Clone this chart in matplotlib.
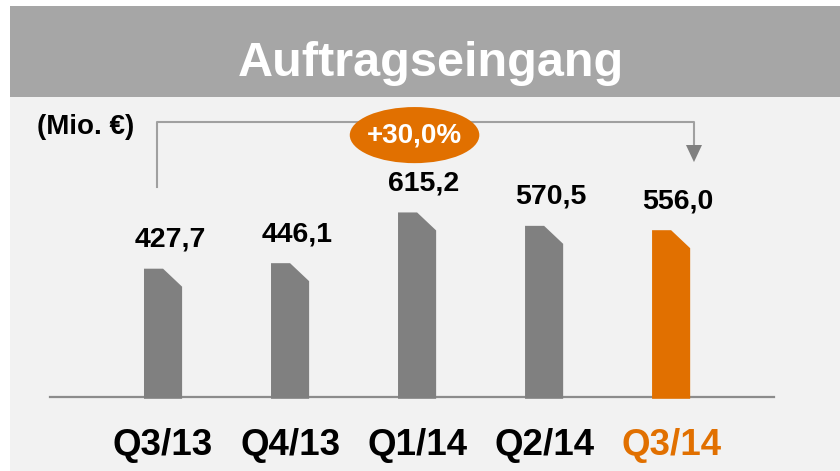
import numpy as np
import matplotlib.pyplot as plt
from matplotlib.patches import Polygon, Ellipse, Rectangle

# Data
quarters = ['Q3/13', 'Q4/13', 'Q1/14', 'Q2/14', 'Q3/14']
order_intake = [427.7, 446.1, 615.2, 570.5, 556.0]
value_labels = ['427,7', '446,1', '615,2', '570,5', '556,0']
highlight = [False, False, False, False, True]

GRAY = '#808080'
ORANGE = '#e17000'
BG = '#f2f2f2'
HEADER = '#a6a6a6'

plt.rcParams['font.family'] = ['Liberation Sans', 'DejaVu Sans']
plt.rcParams['font.weight'] = 'bold'

W, H = 840, 471
fig = plt.figure(figsize=(W / 100, H / 100), dpi=100)
fig.patch.set_facecolor('white')

# background panel and header band
fig.add_artist(Rectangle((10 / W, 0), 1 - 10 / W, 1 - 97 / H, transform=fig.transFigure,
                         facecolor=BG, edgecolor='none', zorder=0))
fig.add_artist(Rectangle((10 / W, 1 - 97 / H), 1 - 10 / W, 91 / H, transform=fig.transFigure,
                         facecolor=HEADER, edgecolor='none', zorder=0))
fig.text(431 / W, 1 - 76 / H, 'Auftragseingang', color='white', fontsize=35,
         fontweight='bold', ha='center', va='baseline')
fig.text(37 / W, 1 - 127 / H, '(Mio. €)', color='black', fontsize=20,
         fontweight='bold', ha='left', va='center')

# main axes: 127 px per category, 0.3 px per Mio. EUR
ax = fig.add_axes([50 / W, 74 / H, 724 / W, 210 / H])
ax.set_facecolor('none')
ax.set_xlim(-0.89, 4.81)
ax.set_ylim(0, 700)
for side in ['top', 'right', 'left']:
    ax.spines[side].set_visible(False)
ax.spines['bottom'].set_color('#8c8c8c')
ax.spines['bottom'].set_linewidth(1.6)
ax.set_yticks([])

x = np.arange(len(quarters))
bar_w = 0.3
cut_y = 60  # size of the clipped corner, in data units

for xi, val, lab, hl in zip(x, order_intake, value_labels, highlight):
    color = ORANGE if hl else GRAY
    # bar with a clipped top-right corner
    pts = [(xi - bar_w / 2, -6), (xi - bar_w / 2, val), (xi, val),
           (xi + bar_w / 2, val - cut_y), (xi + bar_w / 2, -6)]
    ax.add_patch(Polygon(pts, closed=True, facecolor=color, edgecolor='none',
                         zorder=3, clip_on=False))
    ax.text(xi + 0.055, val + 53, lab, ha='center', va='bottom', fontsize=20.5,
            fontweight='bold', color='black', clip_on=False)

ax.set_xticks(x)
ax.set_xticklabels(quarters, fontsize=26.5, fontweight='bold')
ax.tick_params(axis='x', length=0, pad=22)
for tl, hl in zip(ax.get_xticklabels(), highlight):
    tl.set_color(ORANGE if hl else 'black')

# growth bracket from first to last quarter
x_left, x_right = x[0] - 0.047, x[-1] + 0.18
y_top = 917
ax.plot([x_left, x_left, x_right, x_right], [700, y_top, y_top, 840],
        color='#a0a0a0', lw=1.5, clip_on=False, zorder=2)
ax.add_patch(Polygon([(x_right - 0.063, 840), (x_right + 0.063, 840), (x_right, 783)],
                     closed=True, facecolor=GRAY, edgecolor='none', clip_on=False, zorder=2))

growth = order_intake[-1] / order_intake[0] - 1
growth_txt = '+{:.1f}%'.format(growth * 100).replace('.', ',')
ax.add_patch(Ellipse((1.98, 873), 1.02, 187, facecolor=ORANGE, edgecolor='none',
                     clip_on=False, zorder=4))
ax.text(1.98, 873, growth_txt, ha='center', va='center', color='white', fontsize=20,
        fontweight='bold', zorder=5, clip_on=False)

fig.savefig('out.png', dpi=100, facecolor=fig.get_facecolor())
